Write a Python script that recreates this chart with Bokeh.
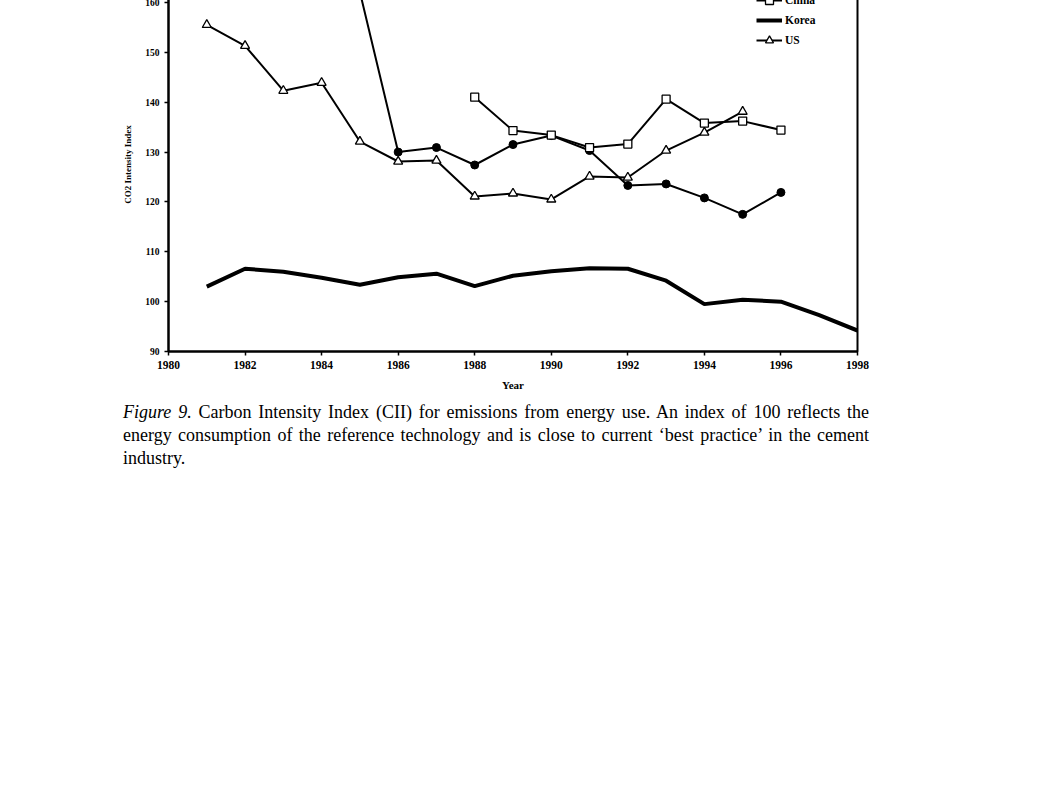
from bokeh.plotting import figure
from bokeh.models import Legend, LegendItem, FixedTicker, Div, Range1d
from bokeh.layouts import column
from bokeh.embed import file_html
from bokeh.resources import INLINE

# ---- data ----
years_us = list(range(1981, 1996))
us = [155.5, 151.3, 142.3, 143.9, 132.1, 128.1, 128.3, 121.1, 121.7, 120.5,
      125.1, 124.9, 130.3, 133.9, 138.1]

years_china = list(range(1988, 1997))
china = [141.0, 134.3, 133.4, 130.9, 131.6, 140.6, 135.8, 136.2, 134.4]

# series with filled circles (its legend entry is cropped off in the reference)
years_circle = list(range(1985, 1997))
circle_series = [162.1, 130.0, 130.9, 127.4, 131.5, 133.3, 130.3, 123.3, 123.6,
                 120.8, 117.5, 121.9]

years_korea = list(range(1981, 1999))
korea = [103.0, 106.6, 106.0, 104.8, 103.4, 104.9, 105.6, 103.1, 105.2, 106.1,
         106.7, 106.6, 104.2, 99.5, 100.4, 100.0, 97.3, 94.2]

x_ticks = list(range(1980, 1999, 2))
y_ticks = list(range(90, 161, 10))

FONT = "Liberation Serif"

p = figure(frame_width=689, frame_height=374,
           x_range=Range1d(1980, 1998), y_range=Range1d(90, 165),
           output_backend="svg", toolbar_location=None,
           min_border_left=168, min_border_right=20,
           min_border_top=5, min_border_bottom=45)

p.xgrid.visible = False
p.ygrid.visible = False
p.outline_line_color = "black"
p.outline_line_width = 2

# Korea
k_line = p.line(years_korea, korea, line_color="black", line_width=4)

# circle series
p.line(years_circle, circle_series, line_color="black", line_width=2)
p.scatter(years_circle, circle_series, marker="circle", size=8,
          fill_color="black", line_color="black")

# China
c_line = p.line(years_china, china, line_color="black", line_width=2)
c_pts = p.scatter(years_china, china, marker="square", size=8,
                  fill_color="white", line_color="black", line_width=1.3)

# US
u_line = p.line(years_us, us, line_color="black", line_width=2)
u_pts = p.scatter(years_us, us, marker="triangle", size=9,
                  fill_color="white", line_color="black", line_width=1.3)

for ax in (p.xaxis[0], p.yaxis[0]):
    ax.axis_line_width = 2
    ax.axis_line_color = "black"
    ax.major_tick_line_width = 1.5
    ax.major_tick_out = 4
    ax.major_tick_in = 0
    ax.minor_tick_line_color = None
    ax.major_label_text_font = FONT
    ax.major_label_text_font_style = "bold"
    ax.major_label_text_color = "black"
    ax.axis_label_text_font = FONT
    ax.axis_label_text_font_style = "bold"
    ax.axis_label_text_color = "black"

p.xaxis.major_label_text_font_size = "11.5px"
p.yaxis.major_label_text_font_size = "9.5px"
p.xaxis.axis_label_text_font_size = "11px"
p.yaxis.axis_label_text_font_size = "9px"

p.xaxis.ticker = FixedTicker(ticks=x_ticks)
p.yaxis.ticker = FixedTicker(ticks=y_ticks)
p.xaxis.axis_label = "Year"
p.yaxis.axis_label = "CO2 Intensity Index"
p.xaxis.major_label_standoff = 5
p.xaxis.axis_label_standoff = 7
p.yaxis.major_label_standoff = 5
p.yaxis.axis_label_standoff = 9

legend = Legend(items=[
    LegendItem(label="China", renderers=[c_line, c_pts]),
    LegendItem(label="Korea", renderers=[k_line]),
    LegendItem(label="US", renderers=[u_line, u_pts]),
], location=(588, 301))
legend.border_line_color = None
legend.background_fill_alpha = 0
legend.padding = 0
legend.margin = 0
legend.spacing = 0
legend.glyph_width = 26
legend.glyph_height = 20
legend.label_height = 20
legend.label_standoff = 3
legend.label_text_font = FONT
legend.label_text_font_style = "bold"
legend.label_text_font_size = "11.5px"
legend.label_text_color = "black"
p.add_layout(legend)

caption = Div(
    text=("<i>Figure 9.</i> Carbon Intensity Index (CII) for emissions from energy use. "
          "An index of 100 reflects the energy consumption of the reference technology "
          "and is close to current \u2018best practice\u2019 in the cement industry."),
    width=746,
    styles={"font-family": FONT, "font-size": "18px", "line-height": "23px",
            "text-align": "justify", "margin-left": "123px", "margin-top": "5px",
            "color": "black"},
)

layout = column(p, caption, styles={"margin-top": "-28px"})

with open("out.html", "w") as f:
    f.write(file_html(layout, INLINE))
